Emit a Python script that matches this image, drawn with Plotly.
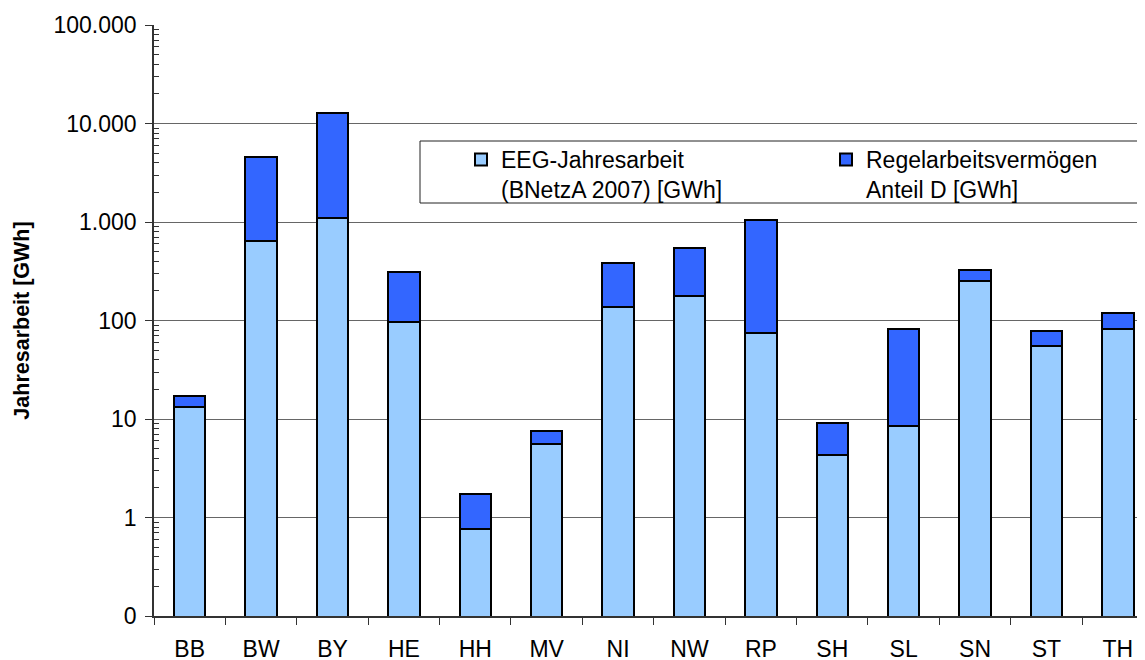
import plotly.graph_objects as go

# ---- data ----
categories = ["BB", "BW", "BY", "HE", "HH", "MV", "NI", "NW", "RP", "SH", "SL", "SN", "ST", "TH"]
eeg_gwh = [13.3, 634, 1100, 96, 0.77, 5.6, 137, 177, 74, 4.3, 8.4, 252, 55, 82]
regel_gwh = [3.7, 3960, 11600, 212, 0.97, 2.0, 244, 364, 970, 4.9, 74, 74, 24, 36]
series_names = ["EEG-Jahresarbeit<br>(BNetzA 2007) [GWh]", "Regelarbeitsvermögen<br>Anteil D [GWh]"]
y_tickvals = [0.1, 1, 10, 100, 1000, 10000, 100000]
y_ticktext = ["0", "1", "10", "100", "1.000", "10.000", "100.000"]
y_title = "Jahresarbeit [GWh]"

FONT = "Liberation Sans, Arial, sans-serif"
# page body has an 8px margin, so the figure is sized to the visible area
OFF = 8
W, H = 1145 - OFF, 660 - OFF
L, R, T = 154 - OFF, 0, 25 - OFF
B = H - (616 - OFF)

minor_vals = [k * 10 ** e for e in range(-1, 5) for k in range(2, 10)]

fig = go.Figure()
fig.add_trace(go.Bar(
    x=categories, y=eeg_gwh, name=series_names[0],
    marker=dict(color="#99CCFF", line=dict(color="#000000", width=2)),
    width=0.44,
))
fig.add_trace(go.Bar(
    x=categories, y=regel_gwh, name=series_names[1],
    marker=dict(color="#3366FF", line=dict(color="#000000", width=2)),
    width=0.44,
))

pw = W - L - R
ph = H - T - B
def px_x(x):  # x in screen pixels
    return (x - OFF - L) / pw
def px_y(y):  # y in screen pixels
    return (H - B - (y - OFF)) / ph

# legend frame
fig.add_shape(type="rect", xref="paper", yref="paper",
              x0=px_x(420), x1=px_x(1160), y0=px_y(203), y1=px_y(141),
              line=dict(color="#222222", width=1), fillcolor="white", layer="below")

fig.update_layout(
    width=W, height=H,
    margin=dict(l=L, r=R, t=T, b=B, autoexpand=False),
    barmode="stack",
    bargap=0.56,
    plot_bgcolor="white", paper_bgcolor="white",
    font=dict(family=FONT, size=23, color="#000000"),
    showlegend=True,
    legend=dict(
        orientation="h", x=px_x(461), y=px_y(138), xanchor="left", yanchor="top",
        traceorder="normal", valign="top",
        entrywidth=320, entrywidthmode="pixels",
        bgcolor="rgba(0,0,0,0)", borderwidth=0,
        font=dict(family=FONT, size=23, color="#000000"),
    ),
    xaxis=dict(
        type="category", range=[-0.5, 13.38], automargin=False,
        tickson="boundaries", ticks="outside", ticklen=7, tickcolor="#333333", tickwidth=1,
        showline=True, linecolor="#333333", linewidth=1.5,
        showgrid=False, tickfont=dict(size=23), ticklabelstandoff=12,
    ),
    yaxis=dict(
        type="log", range=[-1, 5], automargin=False,
        tickmode="array", tickvals=y_tickvals, ticktext=y_ticktext,
        ticks="outside", ticklen=7, tickcolor="#333333", tickwidth=1,
        showline=True, linecolor="#333333", linewidth=1.5,
        showgrid=True, gridcolor="#666666", gridwidth=1,
        zeroline=False,
        tickfont=dict(size=23), ticklabelstandoff=4,
        minor=dict(tickmode="array", tickvals=minor_vals, ticks="inside", ticklen=5,
                   tickcolor="#333333", tickwidth=1, showgrid=False),
        title=dict(text="<b>" + y_title + "</b>", font=dict(size=21.5), standoff=18),
    ),
)

fig.write_html("out.html")
